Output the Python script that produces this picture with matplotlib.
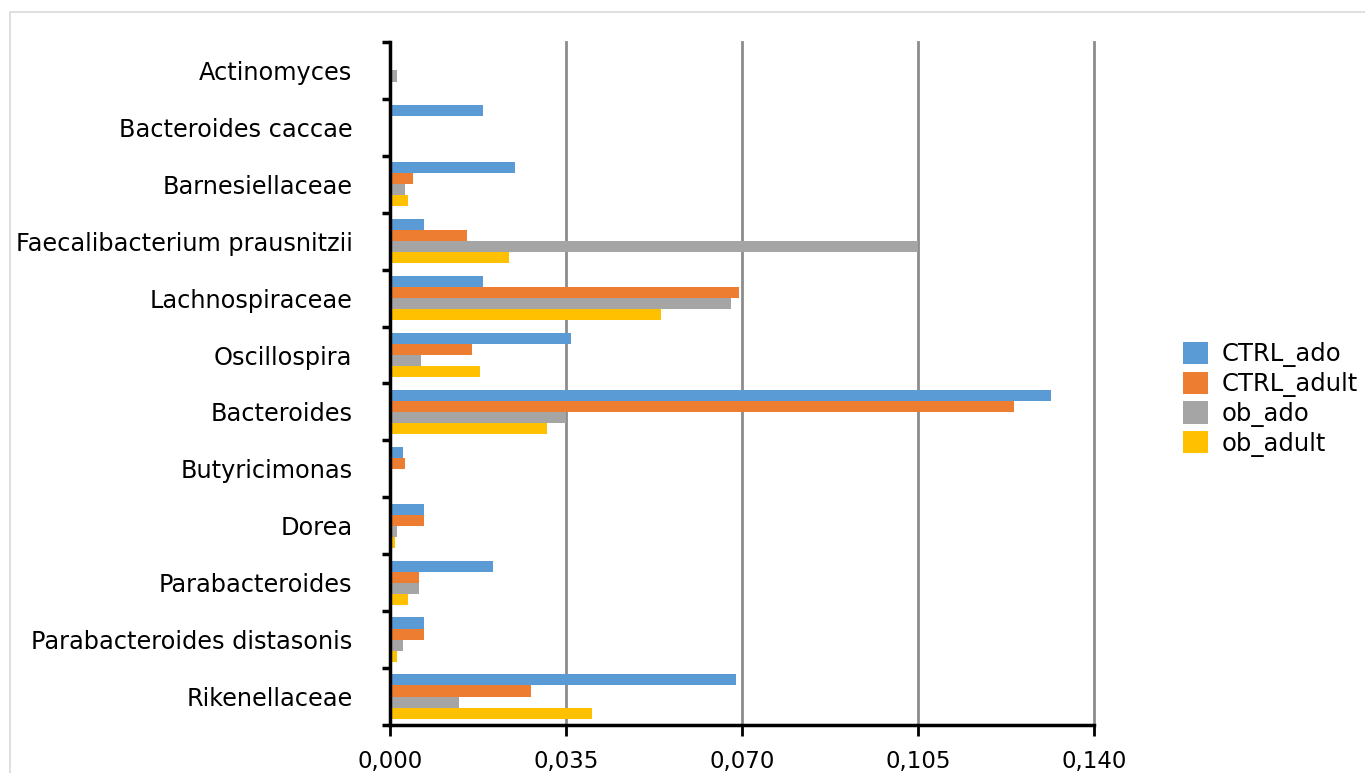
import numpy as np
import matplotlib
matplotlib.use("Agg")
import matplotlib.pyplot as plt
from matplotlib.patches import Rectangle
from matplotlib.ticker import FuncFormatter


categories = [
    "Actinomyces",
    "Bacteroides caccae",
    "Barnesiellaceae",
    "Faecalibacterium prausnitzii",
    "Lachnospiraceae",
    "Oscillospira",
    "Bacteroides",
    "Butyricimonas",
    "Dorea",
    "Parabacteroides",
    "Parabacteroides distasonis",
    "Rikenellaceae",
]

series_names = ["CTRL_ado", "CTRL_adult", "ob_ado", "ob_adult"]

ctrl_ado = [0.0, 0.0185, 0.0249, 0.0068, 0.0185, 0.0360, 0.1314, 0.0026, 0.0068, 0.0205, 0.0068, 0.0688]
ctrl_adult = [0.0, 0.0, 0.0046, 0.0153, 0.0694, 0.0163, 0.1241, 0.0030, 0.0068, 0.0058, 0.0068, 0.0280]
ob_ado = [0.0014, 0.0003, 0.0030, 0.1050, 0.0678, 0.0062, 0.0350, 0.0, 0.0014, 0.0058, 0.0026, 0.0137]
ob_adult = [0.0, 0.0, 0.0036, 0.0237, 0.0539, 0.0179, 0.0312, 0.0003, 0.0010, 0.0036, 0.0014, 0.0402]

colors = ["#5b9bd5", "#ed7d31", "#a5a5a5", "#ffc000"]

plt.rcParams["font.family"] = ["DejaVu Sans"]

fig = plt.figure(figsize=(13.65, 7.73), dpi=100)
ax = fig.add_axes([0.2857, 0.0621, 0.5158, 0.8836])

# light chart-area border
fig.patches.append(Rectangle((10 / 1365, -0.01), 1.0, (773 - 12) / 773 + 0.01,
                             transform=fig.transFigure, fill=False,
                             edgecolor="#d9d9d9", linewidth=1.2))

n = len(categories)
pos = np.arange(n)
h = 0.195
all_vals = [ctrl_ado, ctrl_adult, ob_ado, ob_adult]
for i, (vals, name, c) in enumerate(zip(all_vals, series_names, colors)):
    ax.barh(pos + (i - 1.5) * h, vals, height=h, color=c, label=name, zorder=3)

ax.set_xlim(0, 0.140)
ax.set_ylim(n - 0.5, -0.5)
ax.set_xticks([0, 0.035, 0.070, 0.105, 0.140])
ax.xaxis.set_major_formatter(FuncFormatter(lambda v, p: f"{v:.3f}".replace(".", ",")))

ax.set_yticks(pos)
ax.set_yticklabels(categories)
ax.set_yticks(np.arange(n + 1) - 0.5, minor=True)
ax.tick_params(axis="y", which="major", length=0, pad=27, labelsize=17.3)
ax.tick_params(axis="y", which="minor", length=6, width=2.5, color="black", direction="out")
ax.tick_params(axis="x", length=8, width=2, direction="out", pad=10, labelsize=16.5)

ax.grid(axis="x", color="#8c8c8c", linewidth=2, zorder=0)
for gl in ax.get_xgridlines():
    gl.set_clip_on(False)
ax.set_axisbelow(True)
for s in ["top", "right"]:
    ax.spines[s].set_visible(False)
ax.spines["left"].set_linewidth(2.5)
ax.spines["bottom"].set_linewidth(2.5)
ax.spines["left"].set_zorder(4)

ax.legend(loc="center left", bbox_to_anchor=(1.109, 0.477), frameon=False,
          fontsize=17.5, handlelength=1.03, handleheight=1.03, labelspacing=0.18,
          handletextpad=0.55, borderpad=0)

fig.savefig("out.png", dpi=100)
